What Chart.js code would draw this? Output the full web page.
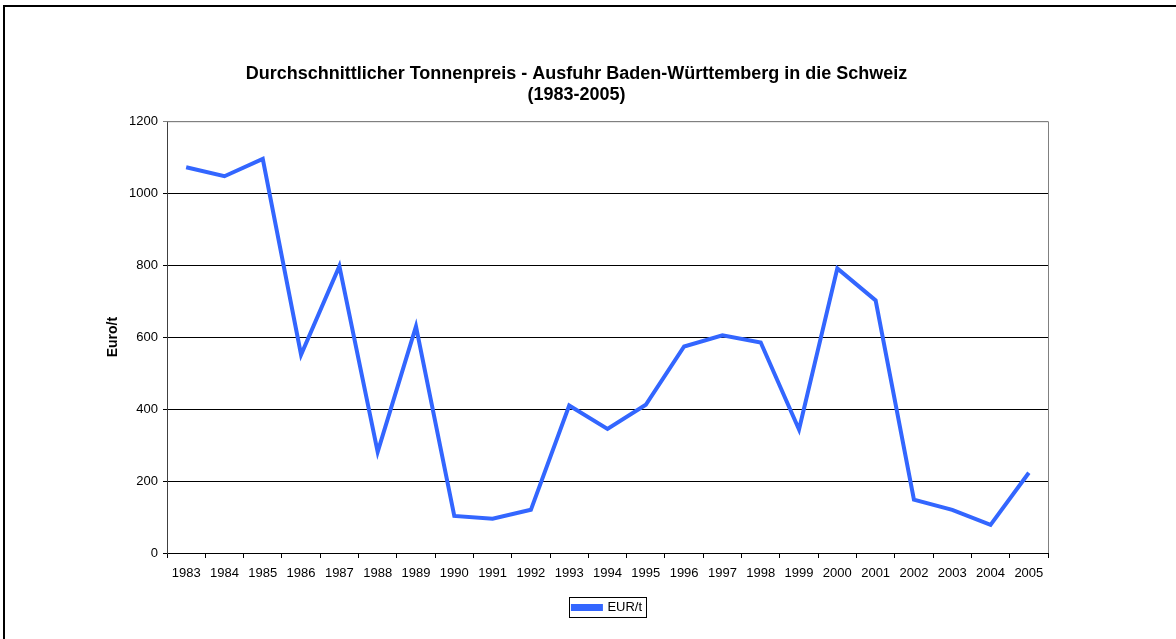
<!DOCTYPE html>
<html>
<head>
<meta charset="utf-8">
<script src="https://cdn.jsdelivr.net/npm/chart.js@4"></script>
<style>
  html, body { margin: 0; padding: 0; background: #fff; }
  #wrap { width: 1176px; height: 639px; }
</style>
</head>
<body>
<div id="wrap"><canvas id="chart" width="1176" height="639"></canvas></div>
<script>
var years = ['1983', '1984', '1985', '1986', '1987', '1988', '1989', '1990', '1991', '1992', '1993', '1994',
             '1995', '1996', '1997', '1998', '1999', '2000', '2001', '2002', '2003', '2004', '2005'];
var eur_per_t = [1072, 1047, 1095, 551, 797, 281, 630, 103, 95, 120, 410, 345,
                 412, 574, 605, 585, 343, 791, 702, 148, 120, 78, 223];
var title_lines = ['Durchschnittlicher Tonnenpreis - Ausfuhr Baden-Württemberg in die Schweiz', '(1983-2005)'];

var font = 'Arial, "Liberation Sans", sans-serif';

// frame round the sheet and the plot, box round the legend
var framePlugin = {
    id: 'frame',
    beforeDraw: function (chart) {
        var c = chart.ctx;
        c.save();
        c.fillStyle = '#fff';
        c.fillRect(0, 0, chart.width, chart.height);
        c.strokeStyle = '#000';
        c.lineWidth = 2;
        c.beginPath();
        c.moveTo(4, chart.height);
        c.lineTo(4, 6);
        c.lineTo(chart.width, 6);
        c.stroke();
        c.restore();
    },
    beforeDatasetsDraw: function (chart) {
        var a = chart.chartArea, c = chart.ctx;
        c.save();
        c.strokeStyle = '#808080';
        c.lineWidth = 1;
        c.beginPath();
        c.moveTo(a.left, a.top + 0.5);
        c.lineTo(a.right + 0.5, a.top + 0.5);
        c.lineTo(a.right + 0.5, a.bottom);
        c.stroke();
        c.restore();
    },
    afterDraw: function (chart) {
        var hb = chart.legend.legendHitBoxes[0];
        if (!hb) return;
        var c = chart.ctx;
        c.save();
        c.strokeStyle = '#000';
        c.lineWidth = 1;
        c.strokeRect(Math.round(hb.left) - 3.5, Math.round(hb.top) - 3.5, Math.round(hb.width) + 8, Math.round(hb.height) + 7);
        c.restore();
    }
};

var ctx = document.getElementById('chart').getContext('2d');
var myChart = new Chart(ctx, {
    type: 'line',
    data: {
        labels: years,
        datasets: [{
            label: 'EUR/t',
            data: eur_per_t,
            borderColor: '#3366FF',
            backgroundColor: '#3366FF',
            borderWidth: 4,
            pointRadius: 0,
            tension: 0,
            borderJoinStyle: 'miter'
        }]
    },
    options: {
        responsive: false,
        animation: false,
        layout: { padding: { left: 105, right: 128, top: 50, bottom: 15 } },
        plugins: {
            title: {
                display: true,
                text: title_lines,
                color: '#000',
                font: { family: font, size: 18, weight: 'bold', lineHeight: 1.2 },
                padding: { top: 13, bottom: 15 }
            },
            legend: {
                display: true,
                position: 'bottom',
                fullSize: false,
                labels: {
                    color: '#000',
                    font: { family: font, size: 13 },
                    boxWidth: 28,
                    boxHeight: 3,
                    padding: 0
                }
            },
            tooltip: { enabled: false }
        },
        scales: {
            x: {
                offset: true,
                grid: { offset: true, drawOnChartArea: false, drawTicks: true, tickLength: 5, color: '#000' },
                border: { color: '#000' },
                ticks: { color: '#000', font: { family: font, size: 13 }, maxRotation: 0, autoSkip: false, padding: 8 },
                afterFit: function (scale) { scale.height = 48; }
            },
            y: {
                min: 0,
                max: 1200,
                ticks: {
                    stepSize: 200, color: '#000', font: { family: font, size: 13 }, padding: 5,
                    callback: function (v) { return String(v); }
                },
                grid: {
                    color: function (c) { return c.tick && c.tick.value === 1200 ? '#808080' : '#000'; },
                    tickLength: 4
                },
                border: { color: '#404040', width: 1 },
                title: { display: true, text: 'Euro/t', color: '#000', font: { family: font, size: 14, weight: 'bold' }, padding: 0 },
                afterFit: function (scale) { scale.width = 62; }
            }
        }
    },
    plugins: [framePlugin]
});
</script>
</body>
</html>
